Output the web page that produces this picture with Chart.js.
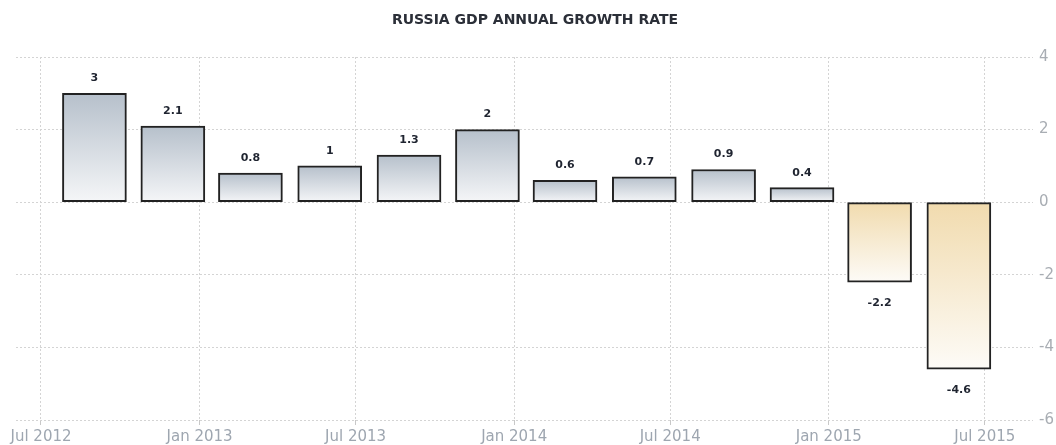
<!DOCTYPE html>
<html>
<head>
<meta charset="utf-8">
<script src="https://cdn.jsdelivr.net/npm/chart.js@4/dist/chart.umd.min.js"></script>
<style>
  html, body { margin: 0; padding: 0; background: #ffffff; }
  #wrap { width: 1056px; height: 445px; }
</style>
</head>
<body>
<div id="wrap"><canvas id="c" width="1056" height="445"></canvas></div>
<script>
// ---- data ----
const title = 'RUSSIA GDP ANNUAL GROWTH RATE';
const quarters = ['2012Q3','2012Q4','2013Q1','2013Q2','2013Q3','2013Q4','2014Q1','2014Q2','2014Q3','2014Q4','2015Q1','2015Q2'];
const barDates = ['2012-09-01','2012-12-01','2013-03-01','2013-06-01','2013-09-01','2013-12-01','2014-03-01','2014-06-01','2014-09-01','2014-12-01','2015-03-01','2015-06-01'];
const growth = [3, 2.1, 0.8, 1, 1.3, 2, 0.6, 0.7, 0.9, 0.4, -2.2, -4.6];
const tickDates = ['2012-07-01','2013-01-01','2013-07-01','2014-01-01','2014-07-01','2015-01-01','2015-07-01'];
const tickLabels = ['Jul 2012','Jan 2013','Jul 2013','Jan 2014','Jul 2014','Jan 2015','Jul 2015'];
const rangeDates = ['2012-06-02','2015-08-26'];
const yTicks = [-6, -4, -2, 0, 2, 4];

// ---- helpers ----
const ORIGIN = Date.UTC(2012, 6, 1);
function dayNum(s) {
  const p = s.split('-').map(Number);
  return (Date.UTC(p[0], p[1] - 1, p[2]) - ORIGIN) / 86400000;
}
const points = barDates.map((d, i) => ({ x: dayNum(d), y: growth[i] }));
const tickValues = tickDates.map(dayNum);
const tickLabelMap = {};
tickValues.forEach((v, i) => { tickLabelMap[v] = tickLabels[i]; });

function barGradient(ctx) {
  const chart = ctx.chart;
  const ys = chart.scales && chart.scales.y;
  const raw = ctx.raw;
  if (!ys || !chart.chartArea || !raw) return '#c8d0d8';
  const v = raw.y;
  const pv = ys.getPixelForValue(v);
  const p0 = ys.getPixelForValue(0);
  if (!isFinite(pv) || !isFinite(p0) || pv === p0) return v >= 0 ? '#c8d0d8' : '#f2dfb8';
  const c = chart.ctx;
  if (v >= 0) {
    const g = c.createLinearGradient(0, pv, 0, p0);
    g.addColorStop(0, '#b6c0cb');
    g.addColorStop(1, '#f5f6f8');
    return g;
  } else {
    const g = c.createLinearGradient(0, p0, 0, pv);
    g.addColorStop(0, '#f1dbae');
    g.addColorStop(1, '#fdfbf7');
    return g;
  }
}

const valueLabels = {
  id: 'valueLabels',
  afterDatasetsDraw(chart) {
    const c = chart.ctx;
    const meta = chart.getDatasetMeta(0);
    c.save();
    c.font = 'bold 11px "DejaVu Sans", sans-serif';
    c.fillStyle = '#1f2430';
    c.textAlign = 'center';
    c.textBaseline = 'middle';
    meta.data.forEach((el, i) => {
      const v = growth[i];
      const y = v >= 0 ? el.y - 15 : el.y + 21;
      c.fillText(String(v), el.x, y);
    });
    c.restore();
  }
};

const titlePlugin = {
  id: 'titleText',
  afterDraw(chart) {
    const c = chart.ctx;
    c.save();
    c.font = 'bold 14px "DejaVu Sans", sans-serif';
    c.fillStyle = '#2b2f38';
    c.textAlign = 'center';
    c.textBaseline = 'middle';
    c.fillText(title, 535, 20);
    c.restore();
  }
};

new Chart(document.getElementById('c'), {
  type: 'bar',
  data: {
    labels: quarters,
    datasets: [{
      label: 'GDP Annual Growth Rate',
      data: points,
      backgroundColor: barGradient,
      borderColor: '#222222',
      borderWidth: 2,
      borderSkipped: false,
      barThickness: 64
    }]
  },
  options: {
    responsive: false,
    animation: false,
    devicePixelRatio: 1,
    layout: { padding: { top: 57, left: 16, right: 0, bottom: 0 } },
    plugins: {
      legend: { display: false },
      title: { display: false },
      tooltip: { enabled: false }
    },
    scales: {
      x: {
        type: 'linear',
        offset: false,
        min: dayNum(rangeDates[0]),
        max: dayNum(rangeDates[1]),
        afterBuildTicks(scale) { scale.ticks = tickValues.map(v => ({ value: v })); },
        afterFit(scale) { scale.height = 25; },
        ticks: {
          autoSkip: false,
          maxRotation: 0,
          padding: 3,
          color: '#9ea6b0',
          font: { family: '"DejaVu Sans", sans-serif', size: 15 },
          callback: (v) => tickLabelMap[v] || ''
        },
        grid: {
          offset: false,
          color: '#d4d4d4',
          lineWidth: 1,
          drawTicks: true,
          tickLength: 5,
          tickColor: '#c8c8c8'
        },
        border: { display: false, dash: [2, 2] }
      },
      y: {
        position: 'right',
        min: -6,
        max: 4,
        afterBuildTicks(scale) { scale.ticks = yTicks.map(v => ({ value: v })); },
        afterFit(scale) { scale.width = 23; },
        ticks: {
          padding: 6,
          color: '#a8adb3',
          font: { family: '"DejaVu Sans", sans-serif', size: 15 }
        },
        grid: {
          color: '#d4d4d4',
          lineWidth: 1,
          drawTicks: false
        },
        border: { display: false, dash: [2, 2] }
      }
    }
  },
  plugins: [valueLabels, titlePlugin]
});
</script>
</body>
</html>
